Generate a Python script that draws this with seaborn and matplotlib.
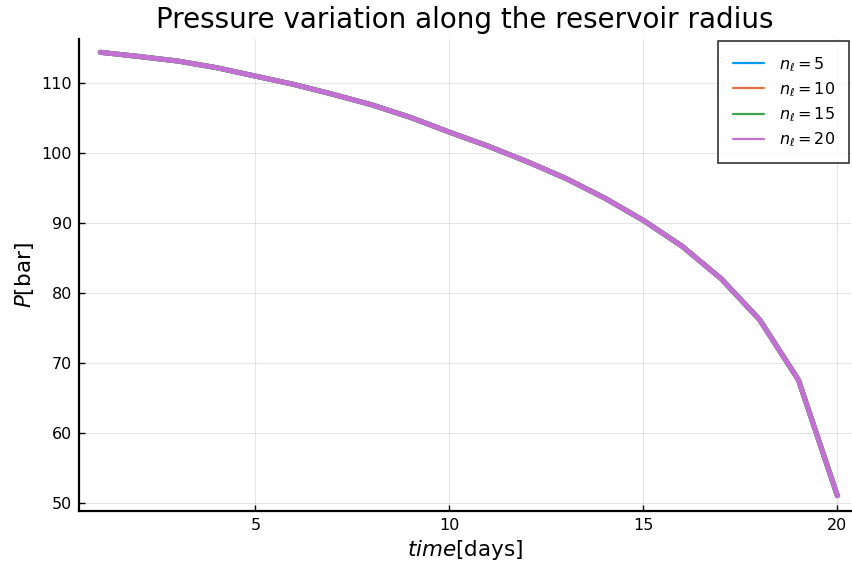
import numpy as np
import pandas as pd
import matplotlib
matplotlib.use("Agg")
import matplotlib.pyplot as plt
import seaborn as sns
from matplotlib.lines import Line2D

# time in days
days = list(range(1, 21))

# pressure [bar] for each number of layers n_l
p_n5 = [114.4, 113.8, 113.15, 112.2, 111.0, 109.8, 108.4, 106.9, 105.1, 103.0,
        101.0, 98.8, 96.4, 93.6, 90.4, 86.7, 82.1, 76.2, 67.6, 51.1]
p_n10 = [114.4, 113.8, 113.15, 112.2, 111.0, 109.8, 108.4, 106.9, 105.1, 103.0,
         101.0, 98.8, 96.4, 93.6, 90.4, 86.7, 82.1, 76.2, 67.6, 51.1]
p_n15 = [114.4, 113.8, 113.15, 112.2, 111.0, 109.8, 108.4, 106.9, 105.1, 103.0,
         101.0, 98.8, 96.4, 93.6, 90.4, 86.7, 82.1, 76.2, 67.6, 51.1]
p_n20 = [114.4, 113.8, 113.15, 112.2, 111.0, 109.8, 108.4, 106.9, 105.1, 103.0,
         101.0, 98.8, 96.4, 93.6, 90.4, 86.7, 82.1, 76.2, 67.6, 51.1]

labels = [r"$n_\ell = 5$", r"$n_\ell = 10$", r"$n_\ell = 15$", r"$n_\ell = 20$"]
colors = ["#009AFA", "#E36F47", "#3EA44E", "#C271D2"]
x_ticks = [5, 10, 15, 20]
y_ticks = [50, 60, 70, 80, 90, 100, 110]

frames = []
for lab, vals in zip(labels, [p_n5, p_n10, p_n15, p_n20]):
    frames.append(pd.DataFrame({"time": days, "P": vals, "series": lab}))
df = pd.concat(frames, ignore_index=True)

sns.set_theme(style="ticks")
plt.rcParams["font.family"] = ["DejaVu Sans"]
plt.rcParams["mathtext.fontset"] = "dejavusans"
plt.rcParams["text.color"] = "black"
plt.rcParams["axes.labelcolor"] = "black"

fig = plt.figure(figsize=(8.52, 5.70), dpi=100)
ax = fig.add_axes([0.0927, 0.104, 0.906, 0.8276])

sns.lineplot(data=df, x="time", y="P", hue="series", palette=colors,
             hue_order=labels, linewidth=3.6, ax=ax, legend=False,
             estimator=None, sort=False)

ax.set_xlim(0.45, 20.35)
ax.set_ylim(48.95, 116.3)
ax.set_xticks(x_ticks)
ax.set_yticks(y_ticks)
ax.grid(True, color="#000000", alpha=0.1, linewidth=0.8)
ax.set_axisbelow(True)

for side in ["top", "right"]:
    ax.spines[side].set_visible(False)
for side in ["left", "bottom"]:
    ax.spines[side].set_linewidth(1.6)
    ax.spines[side].set_color("black")
ax.tick_params(axis="both", direction="in", length=4, width=1.0,
               labelsize=11.5, colors="black", pad=5)

ax.set_xlabel(r"$time$[days]", fontsize=15.5, labelpad=4, color="black")
ax.set_ylabel(r"$P$[bar]", fontsize=15.5, labelpad=4, color="black")
ax.set_title("Pressure variation along the reservoir radius", fontsize=20,
             pad=8, color="black")

handles = [Line2D([0], [0], color=c, linewidth=1.6) for c in colors]
leg = ax.legend(handles, labels, loc="upper right", fontsize=11.5,
                frameon=True, fancybox=False, borderaxespad=0.1,
                handlelength=2.0, handletextpad=0.9, labelspacing=0.4,
                borderpad=0.9)
leg.get_frame().set_edgecolor("black")
leg.get_frame().set_linewidth(1.2)
for t in leg.get_texts():
    t.set_color("black")

fig.savefig("out.png", dpi=100)
